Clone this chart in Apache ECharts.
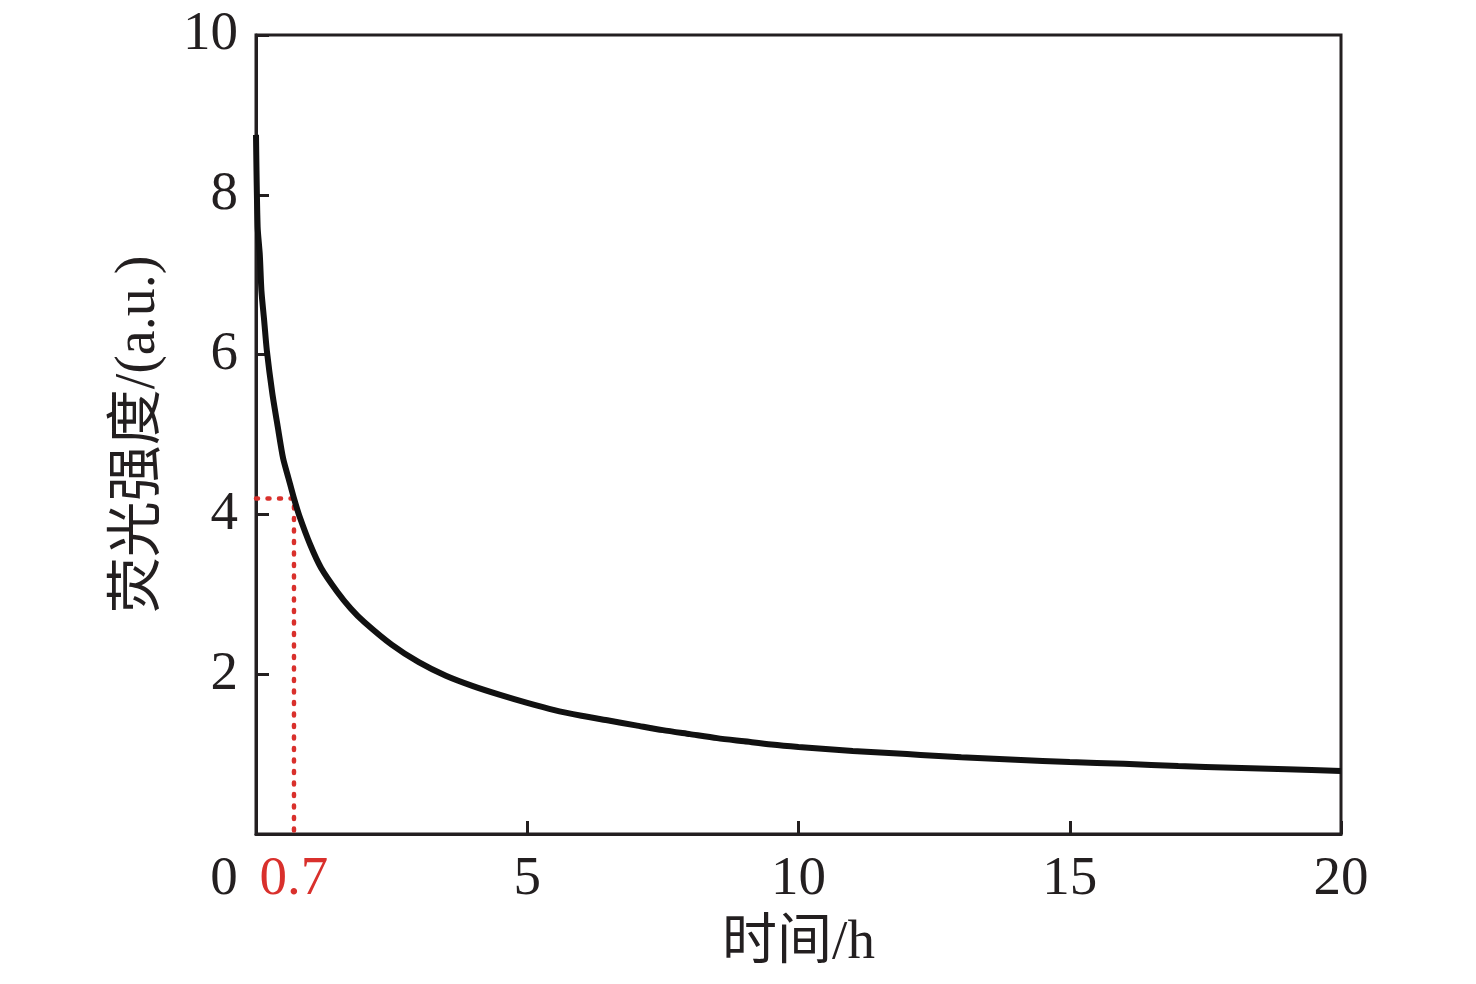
<!DOCTYPE html>
<html>
<head>
<meta charset="utf-8">
<script src="https://cdn.jsdelivr.net/npm/echarts@6/dist/echarts.min.js"></script>
<style>
html,body{margin:0;padding:0;background:#fff;}
#chart{width:1476px;height:984px;}
</style>
</head>
<body>
<div id="chart"></div>
<script>
// time (h)
const timeH = [0, 0.03, 0.07, 0.1, 0.15, 0.2, 0.3, 0.4, 0.5, 0.6, 0.7, 0.8, 1.0, 1.2, 1.5, 1.75, 2.0, 2.5, 3.0, 3.5, 4.0, 4.5, 5.0, 5.5, 6.0, 6.5, 7.0, 7.5, 8.0, 8.5, 9.0, 9.5, 10, 11, 12, 12.5, 13, 14, 15, 16, 17, 18, 19, 20];
// fluorescence intensity (a.u.)
const intensity = [8.75, 7.6, 7.25, 6.8, 6.43, 6.05, 5.52, 5.1, 4.7, 4.45, 4.2, 3.98, 3.62, 3.33, 3.03, 2.82, 2.65, 2.37, 2.15, 1.98, 1.85, 1.74, 1.64, 1.55, 1.48, 1.42, 1.36, 1.30, 1.25, 1.2, 1.16, 1.12, 1.09, 1.04, 1.0, 0.98, 0.96, 0.93, 0.90, 0.88, 0.85, 0.83, 0.81, 0.79];
// marked point
const markT = 0.7;
const markI = 4.2;
const xTicks = [0, 5, 10, 15, 20];
const xLabels = [0, 0.7, 5, 10, 15, 20];
const yTicks = [0, 2, 4, 6, 8, 10];

const FONT = '"Liberation Serif", "Noto Sans CJK SC", serif';
const INK = '#231f20';
const RED = '#d9302c';
const FS = 55;

const chart = echarts.init(document.getElementById('chart'), null, {renderer: 'canvas'});
chart.setOption({
  animation: false,
  backgroundColor: '#fff',
  grid: {left: 256, right: 135, top: 35, bottom: 150, show: true, borderColor: INK, borderWidth: 3, backgroundColor: 'transparent'},
  xAxis: {
    type: 'value', min: 0, max: 20,
    name: '时间/h', nameLocation: 'middle', nameGap: 82,
    nameTextStyle: {fontFamily: FONT, fontSize: FS, color: INK},
    axisLine: {show: true, onZero: false, lineStyle: {color: INK, width: 3}},
    axisTick: {show: true, inside: true, length: 13, customValues: xTicks, lineStyle: {color: INK, width: 3}},
    axisLabel: {
      show: true, margin: 18, customValues: xLabels,
      fontFamily: FONT, fontSize: FS, color: INK,
      formatter: function (v) {
        if (v === 0) return '{z|0}';
        if (Math.abs(v - markT) < 1e-9) return '{r|' + markT + '}';
        return String(v);
      },
      rich: {
        z: {fontFamily: FONT, fontSize: FS, color: INK, padding: [0, 64, 0, 0]},
        r: {fontFamily: FONT, fontSize: FS, color: RED}
      }
    },
    splitLine: {show: false}
  },
  yAxis: {
    type: 'value', min: 0, max: 10, interval: 2,
    name: '荧光强度/(a.u.)', nameLocation: 'middle', nameGap: 89, nameRotate: 90,
    nameTextStyle: {fontFamily: FONT, fontSize: 56, color: INK},
    axisLine: {show: true, onZero: false, lineStyle: {color: INK, width: 3}},
    axisTick: {show: true, inside: true, length: 13, customValues: yTicks, lineStyle: {color: INK, width: 3}},
    axisLabel: {
      show: true, margin: 18, fontFamily: FONT, fontSize: FS, color: INK,
      formatter: function (v) { return v === 0 ? '' : String(v); }
    },
    splitLine: {show: false}
  },
  series: [
    {
      type: 'line', name: 'marker', symbol: 'none', z: 3,
      data: [[0, markI], [markT, markI], [markT, 0]],
      lineStyle: {color: RED, width: 4.5, type: [2, 9.5], cap: 'round'}
    },
    {
      type: 'line', name: 'intensity', symbol: 'none', z: 4,
      smooth: 0.25,
      data: timeH.map((t, i) => [t, intensity[i]]),
      lineStyle: {color: '#111', width: 6}
    }
  ]
});
</script>
</body>
</html>
